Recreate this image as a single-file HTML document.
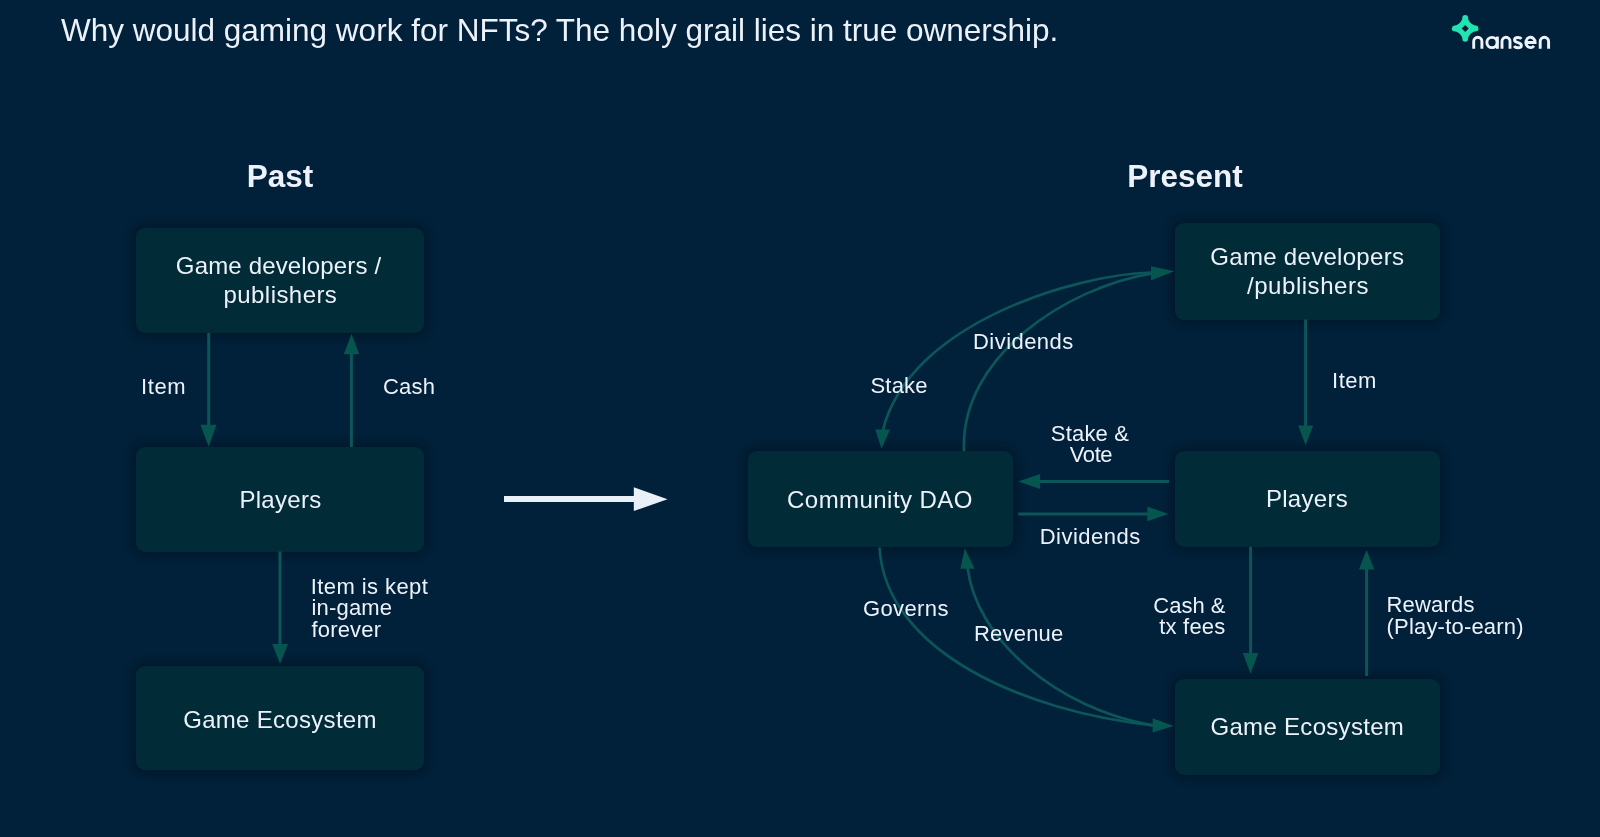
<!DOCTYPE html>
<html>
<head>
<meta charset="utf-8">
<style>
html,body{margin:0;padding:0;}
body{width:1600px;height:837px;background:#002139;overflow:hidden;position:relative;font-family:"Liberation Sans",sans-serif;}
.box{position:absolute;background:#022b38;border-radius:9px;box-shadow:0 0 10px 3px rgba(0,10,25,0.42);}
svg{position:absolute;left:0;top:0;will-change:transform;}
.t{font-family:"Liberation Sans",sans-serif;fill:#edf2fa;}
.lbl{font-size:22px;letter-spacing:0.2px;}
.bx{font-size:24px;letter-spacing:0.3px;}
.hd{font-size:31.5px;font-weight:700;}
.ln{stroke:#0c5558;stroke-width:3;fill:none;}
.ah{fill:#07554f;}
.cv{stroke-width:2.7;}
</style>
</head>
<body>
<!-- boxes -->
<div class="box" style="left:136px;top:228px;width:288px;height:105px"></div>
<div class="box" style="left:136px;top:447px;width:288px;height:104.5px"></div>
<div class="box" style="left:136px;top:666px;width:288px;height:104px"></div>
<div class="box" style="left:1175px;top:223px;width:265px;height:96.5px"></div>
<div class="box" style="left:1175px;top:451px;width:265px;height:96px"></div>
<div class="box" style="left:1175px;top:679px;width:265px;height:96px"></div>
<div class="box" style="left:747.5px;top:451px;width:265.5px;height:96px"></div>

<svg width="1600" height="837" viewBox="0 0 1600 837">
  <!-- left straight arrows -->
  <line class="ln" x1="208.7" y1="333" x2="208.7" y2="426"/>
  <polygon class="ah" points="200.5,424.8 216.5,424.8 208.7,446.8"/>
  <line class="ln" x1="351.4" y1="447" x2="351.4" y2="353"/>
  <polygon class="ah" points="343.8,354.2 359.2,354.2 351.5,333.9"/>
  <line class="ln" x1="280" y1="551.5" x2="280" y2="645"/>
  <polygon class="ah" points="272.2,643.9 288,643.9 280.1,663.7"/>

  <!-- white transition arrow -->
  <rect x="504" y="496" width="131" height="6" fill="#eaf0f8"/>
  <polygon points="633.8,487.2 633.8,511.1 667.5,499.2" fill="#eaf0f8"/>

  <!-- right straight arrows -->
  <line class="ln" x1="1305.6" y1="319.5" x2="1305.6" y2="427"/>
  <polygon class="ah" points="1298.2,425.6 1313.2,425.6 1305.6,445.2"/>
  <line class="ln" x1="1250.6" y1="547" x2="1250.6" y2="654"/>
  <polygon class="ah" points="1242.8,652.9 1258.2,652.9 1250.6,673.5"/>
  <line class="ln" x1="1366.6" y1="676" x2="1366.6" y2="568"/>
  <polygon class="ah" points="1358.9,569.6 1374.3,569.6 1366.6,549.9"/>
  <line class="ln" x1="1169" y1="481.5" x2="1039" y2="481.5"/>
  <polygon class="ah" points="1040.1,474 1040.1,489 1018.3,481.5"/>
  <line class="ln" x1="1018.3" y1="514" x2="1149" y2="514"/>
  <polygon class="ah" points="1147.3,506.6 1147.3,521.2 1168.5,514"/>

  <!-- curves -->
  <path class="ln cv" d="M 1151.0 272.5 C 1079.1 274.2 909.3 321.6 882.7 431"/>
  <polygon class="ah" points="875.3,429.6 890.1,429.6 881.5,448.7"/>
  <path class="ln cv" d="M 964.0 451.0 C 959.9 356.4 1066.3 287.8 1152 273.3"/>
  <polygon class="ah" points="1151,266.3 1151,280.5 1174.2,271.2"/>
  <path class="ln cv" d="M 879.5 547.5 C 885.6 652.3 1026.3 712.1 1154 725.3"/>
  <polygon class="ah" points="1152.6,718.2 1152.6,732.6 1173.6,726"/>
  <path class="ln cv" d="M 1152.6 725.3 C 1058.2 709.3 975.9 639.9 967.5 567"/>
  <polygon class="ah" points="960.3,568.7 974.7,568.7 964.8,548.4"/>

  <!-- title -->
  <text class="t" x="61" y="40.5" style="font-size:31.5px">Why would gaming work for NFTs? The holy grail lies in true ownership.</text>

  <!-- headings -->
  <text class="t hd" x="246.8" y="186.6">Past</text>
  <text class="t hd" x="1127.2" y="186.6">Present</text>

  <!-- left box texts -->
  <text class="t bx" x="278.6" y="273.7" text-anchor="middle" style="letter-spacing:0.16px">Game developers /</text>
  <text class="t bx" x="280.4" y="303.2" text-anchor="middle" style="letter-spacing:0.44px">publishers</text>
  <text class="t bx" x="280.5" y="507.5" text-anchor="middle">Players</text>
  <text class="t bx" x="280" y="727.6" text-anchor="middle">Game Ecosystem</text>

  <!-- right box texts -->
  <text class="t bx" x="1307.3" y="265.4" text-anchor="middle">Game developers</text>
  <text class="t bx" x="1308" y="294.3" text-anchor="middle" style="letter-spacing:0.53px">/publishers</text>
  <text class="t bx" x="1307" y="507.1" text-anchor="middle">Players</text>
  <text class="t bx" x="1307.3" y="734.6" text-anchor="middle">Game Ecosystem</text>
  <text class="t bx" x="880" y="507.5" text-anchor="middle" style="letter-spacing:0.45px">Community DAO</text>

  <!-- left labels -->
  <text class="t lbl" x="141.1" y="393.8" style="letter-spacing:0.6px">Item</text>
  <text class="t lbl" x="383" y="393.8">Cash</text>
  <text class="t lbl" x="310.8" y="594.2" style="letter-spacing:0.41px">Item is kept</text>
  <text class="t lbl" x="311.4" y="615.3">in-game</text>
  <text class="t lbl" x="311.4" y="636.8">forever</text>

  <!-- right labels -->
  <text class="t lbl" x="1332" y="387.5" style="letter-spacing:0.53px">Item</text>
  <text class="t lbl" x="870.5" y="393.3">Stake</text>
  <text class="t lbl" x="973" y="348.7" style="letter-spacing:0.45px">Dividends</text>
  <text class="t lbl" x="1090" y="440.8" text-anchor="middle">Stake &amp;</text>
  <text class="t lbl" x="1091" y="462.1" text-anchor="middle" style="letter-spacing:-0.4px">Vote</text>
  <text class="t lbl" x="1090.2" y="543.6" text-anchor="middle" style="letter-spacing:0.47px">Dividends</text>
  <text class="t lbl" x="862.9" y="616.1" style="letter-spacing:0.39px">Governs</text>
  <text class="t lbl" x="974" y="641.2">Revenue</text>
  <text class="t lbl" x="1225.5" y="612.6" text-anchor="end" style="letter-spacing:0px">Cash &amp;</text>
  <text class="t lbl" x="1225.5" y="633.7" text-anchor="end">tx fees</text>
  <text class="t lbl" x="1386.5" y="612">Rewards</text>
  <text class="t lbl" x="1386.5" y="633.5">(Play-to-earn)</text>

  <!-- nansen logo -->
  <g id="logo">
    <path fill="#22e3b2" fill-rule="evenodd" d="M1462.70,16.00 Q1465.20,14.20 1467.70,16.00 A9.90,9.90 0 0 0 1477.60,25.90 Q1479.40,28.40 1477.60,30.90 A9.90,9.90 0 0 0 1467.70,40.80 Q1465.20,42.60 1462.70,40.80 A9.90,9.90 0 0 0 1452.80,30.90 Q1451.00,28.40 1452.80,25.90 A9.90,9.90 0 0 0 1462.70,16.00 Z M1465.20,24.90 L1468.70,28.40 L1465.20,31.90 L1461.70,28.40 Z"/>
    <g fill="none" stroke="#eef2fa" stroke-width="2.9">
      <path d="M1473.7,48.8 V41.4 A4.1,4.1 0 0 1 1481.9,41.4 V48.8"/>
      <circle cx="1492" cy="42.5" r="5.1"/>
      <path d="M1497.4,36.6 V48.8"/>
      <path d="M1502,48.8 V41.3 A4,4 0 0 1 1510,41.3 V48.8"/>
      <path d="M1521.4,38.8 C1520.6,37.8 1519.4,37.5 1518,37.5 C1515.9,37.5 1514.5,38.5 1514.5,40 C1514.5,41.6 1516.1,42.1 1518,42.6 C1520,43.1 1521.4,43.8 1521.4,45.5 C1521.4,47 1520,47.8 1517.9,47.8 C1516.3,47.8 1514.9,47.2 1514.1,46.1"/>
      <path d="M1525.9,42.5 H1535.1 A4.6,5.2 0 1 0 1534.0,45.8"/>
      <path d="M1540.2,48.8 V41.5 A4.2,4.2 0 0 1 1548.6,41.5 V48.8"/>
    </g>
  </g>
</svg>
</body>
</html>
